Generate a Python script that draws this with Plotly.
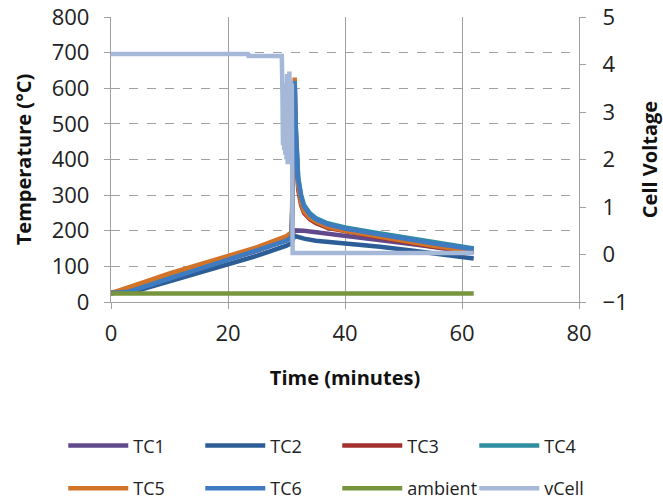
import plotly.graph_objects as go

# ---------------- data ----------------
t_ramp = [0, 3, 5, 10, 15, 20, 25, 30, 30.9]
tc1_ramp = [25, 33, 44, 70, 96, 120, 144, 174, 184]
tc2_ramp = [25, 27, 34, 58, 83, 107, 130, 158, 166]
tc3_ramp = [25, 36, 48, 75, 100, 125, 149, 180, 190]
tc4_ramp = [25, 32, 42, 70, 97, 122, 147, 176, 186]
tc5_ramp = [25, 40, 52, 80, 105, 130, 154, 185, 196]
tc6_ramp = [25, 29, 39, 65, 92, 118, 143, 172, 182]

t_after_flat = [31.3, 33, 35, 40, 46, 52, 57, 62]
tc1_after = [201, 200, 196, 188, 175, 161, 150, 140]
tc2_after = [186, 178, 172, 165, 155, 143, 133, 122]

t_spike = [31.1, 31.4, 31.6, 31.8, 32.0, 32.5, 33, 34, 35, 37, 40, 45, 50, 55, 62]
tc3_after = [350, 560, 450, 370, 315, 272, 250, 232, 222, 208, 198, 184, 170, 156, 140]
tc4_after = [380, 605, 490, 405, 350, 300, 272, 249, 236, 221, 209, 195, 181, 167, 150]
tc5_after = [420, 630, 470, 385, 325, 278, 254, 236, 226, 211, 200, 186, 172, 158, 142]
tc6_after = [380, 620, 480, 400, 345, 295, 268, 245, 232, 218, 206, 192, 178, 165, 148]

t_ambient = [0, 62]
ambient = [24, 24]

t_vcell = [0, 23.4, 23.5, 29.2, 29.3, 29.4, 29.5, 29.6, 29.7, 29.8, 29.9, 30.0,
           30.1, 30.2, 30.3, 30.4, 30.5, 30.6, 30.7, 30.8, 30.9, 31.0, 31.05, 62]
vcell = [4.22, 4.22, 4.18, 4.18, 3.4, 2.3, 3.6, 2.2, 3.3, 2.1, 3.0, 2.0,
         3.8, 1.9, 3.75, 2.0, 3.85, 1.9, 3.7, 2.1, 3.6, 2.5, 0.03, 0.03]

tc_t = {
    "TC1": (t_ramp + t_after_flat, tc1_ramp + tc1_after),
    "TC2": (t_ramp + t_after_flat, tc2_ramp + tc2_after),
    "TC3": (t_ramp + t_spike, tc3_ramp + tc3_after),
    "TC4": (t_ramp + t_spike, tc4_ramp + tc4_after),
    "TC5": (t_ramp + t_spike, tc5_ramp + tc5_after),
    "TC6": (t_ramp + t_spike, tc6_ramp + tc6_after),
}
colors = {
    "TC1": "#604a8b", "TC2": "#2c5d96", "TC3": "#a3302d", "TC4": "#2e8d9e",
    "TC5": "#d2732a", "TC6": "#3f7bc0", "ambient": "#77953c", "vCell": "#a6b8d8",
}

FONT = "Open Sans, Roboto, sans-serif"
LW = 4.5

fig = go.Figure()
for i, name in enumerate(["TC1", "TC2", "TC3", "TC4", "TC5", "TC6"]):
    x, y = tc_t[name]
    fig.add_trace(go.Scatter(x=x, y=y, mode="lines", name=name,
                             line=dict(color=colors[name], width=LW),
                             legend="legend" if i < 4 else "legend2"))
fig.add_trace(go.Scatter(x=t_ambient, y=ambient, mode="lines", name="ambient",
                         line=dict(color=colors["ambient"], width=LW), legend="legend2"))
fig.add_trace(go.Scatter(x=t_vcell, y=vcell, mode="lines", name="vCell", yaxis="y2",
                         line=dict(color=colors["vCell"], width=LW), legend="legend2"))

axis_gray = "#a0a0a0"
legend_common = dict(orientation="h", xanchor="left", yanchor="middle",
                     font=dict(family=FONT, size=18, color="#222"),
                     entrywidth=62, entrywidthmode="pixels", itemwidth=60,
                     bgcolor="rgba(0,0,0,0)")
tickfont = dict(size=22, family=FONT, color="#222")
titlefont = dict(size=20, family=FONT, color="#111")

fig.update_layout(
    width=663, height=502,
    margin=dict(l=111, r=84, t=17, b=200, autoexpand=False),
    plot_bgcolor="white", paper_bgcolor="white",
    font=dict(family=FONT, color="#222"),
    xaxis=dict(range=[0, 80], dtick=20, showgrid=True, gridcolor=axis_gray, gridwidth=1.3,
               showline=True, linecolor=axis_gray, linewidth=1.3, zeroline=False,
               ticks="outside", ticklen=6, tickcolor=axis_gray, ticklabelstandoff=5,
               tickfont=tickfont, automargin=False,
               title=dict(text="<b>Time (minutes)</b>", font=titlefont, standoff=25)),
    yaxis=dict(range=[0, 800], dtick=100, showgrid=True, gridcolor=axis_gray, griddash="dash",
               gridwidth=1, showline=True, linecolor=axis_gray, linewidth=1.3, zeroline=False,
               ticks="outside", ticklen=6, tickcolor=axis_gray, ticklabelstandoff=10,
               tickfont=tickfont, automargin=False,
               title=dict(text="<b>Temperature (°C)</b>", font=titlefont, standoff=14)),
    yaxis2=dict(range=[-1, 5], dtick=1, overlaying="y", side="right", showgrid=False,
                showline=True, linecolor=axis_gray, linewidth=1.3, zeroline=False,
                ticks="outside", ticklen=6, tickcolor=axis_gray, ticklabelstandoff=12,
                tickfont=tickfont, automargin=False,
                title=dict(text="<b>Cell Voltage</b>", font=titlefont, standoff=16)),
    legend=dict(x=-0.102, y=-0.505, **legend_common),
    legend2=dict(x=-0.102, y=-0.655, **legend_common),
)

fig.write_html("out.html")
